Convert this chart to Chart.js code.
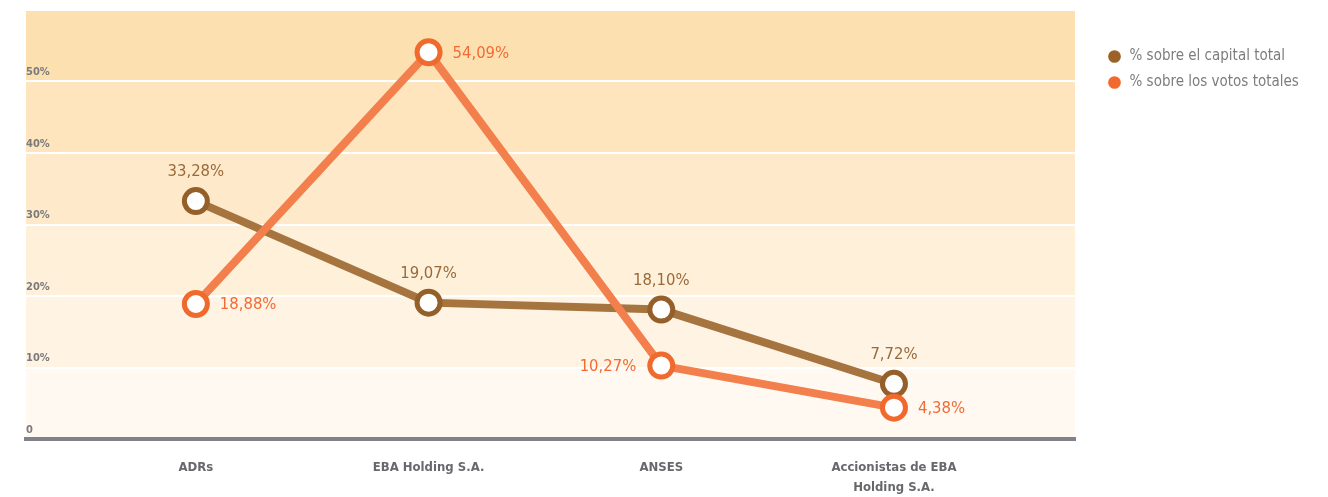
<!DOCTYPE html>
<html>
<head>
<meta charset="utf-8">
<script src="https://cdn.jsdelivr.net/npm/chart.js@4.4.0/dist/chart.umd.min.js"></script>
<style>
html,body{margin:0;padding:0;background:#ffffff;}
#wrap{width:1328px;height:497px;position:relative;}
</style>
</head>
<body>
<div id="wrap"><canvas id="c"></canvas></div>
<script>
// ---- data ----
const categories = ['ADRs', 'EBA Holding S.A.', 'ANSES', ['Accionistas de EBA', 'Holding S.A.']];
const capitalTotal = [33.28, 19.07, 18.10, 7.72];
const votosTotales = [18.88, 54.09, 10.27, 4.38];
const seriesNames = ['% sobre el capital total', '% sobre los votos totales'];
const yTickValues = [0, 10, 20, 30, 40, 50, 60];
const yTickLabels = ['0', '10%', '20%', '30%', '40%', '50%', ''];

// ---- style ----
const FONT = '"DejaVu Sans Condensed", "Liberation Sans Narrow", "Arial Narrow", sans-serif';
const BROWN_LINE = '#a5743f', BROWN_PT = '#955f2a', BROWN_TXT = '#9a6a3b', BROWN_LEG = '#9a6128';
const ORANGE_LINE = '#f27f4c', ORANGE_PT = '#f06a2e', ORANGE_TXT = '#f26b35', ORANGE_LEG = '#f06a30';
const fmt = v => v.toFixed(2).replace('.', ',') + '%';

const bandsPlugin = {
  id: 'bands',
  beforeDraw(chart, args, opts) {
    const {ctx, chartArea, scales} = chart;
    const y = scales.y;
    ctx.save();
    for (let i = 0; i < yTickValues.length - 1; i++) {
      const y1 = y.getPixelForValue(yTickValues[i]);
      const y2 = y.getPixelForValue(yTickValues[i + 1]);
      ctx.fillStyle = opts.colors[i];
      ctx.fillRect(chartArea.left, y2, chartArea.right - chartArea.left, y1 - y2);
    }
    ctx.restore();
  }
};

const labelsPlugin = {
  id: 'pointLabels',
  afterDatasetsDraw(chart, args, opts) {
    const {ctx} = chart;
    ctx.save();
    ctx.font = '16.5px ' + FONT;
    chart.data.datasets.forEach((ds, di) => {
      const meta = chart.getDatasetMeta(di);
      const place = opts.placement[di];
      meta.data.forEach((pt, i) => {
        const txt = fmt(ds.data[i].y);
        ctx.fillStyle = opts.colors[di];
        ctx.textBaseline = 'middle';
        const p = place[i];
        if (p === 'top') {
          ctx.textAlign = 'center';
          ctx.fillText(txt, pt.x, pt.y - 29);
        } else if (p === 'right') {
          ctx.textAlign = 'left';
          ctx.fillText(txt, pt.x + 24, pt.y + 1);
        } else {
          ctx.textAlign = 'right';
          ctx.fillText(txt, pt.x - 25, pt.y + 1);
        }
      });
    });
    ctx.restore();
  }
};

const legendFitPlugin = {
  id: 'legendFit',
  beforeInit(chart, args, opts) {
    const lg = chart.legend;
    if (!lg) return;
    const origFit = lg.fit;
    lg.fit = function () { origFit.call(this); this.width = opts.width; };
    const origDraw = lg.draw;
    lg.draw = function () {
      const c = this.ctx;
      c.save();
      c.translate(opts.dx, opts.dy);
      origDraw.apply(this, arguments);
      c.restore();
    };
  }
};

const mk = (vals) => vals.map((v, i) => ({x: i, y: v}));

new Chart(document.getElementById('c'), {
  type: 'line',
  data: {
    datasets: [
      {
        label: seriesNames[0],
        data: mk(capitalTotal),
        borderColor: BROWN_LINE,
        backgroundColor: BROWN_LEG,
        borderWidth: 8,
        pointRadius: 11.5,
        pointHoverRadius: 11.5,
        pointBorderWidth: 5,
        pointBackgroundColor: '#ffffff',
        pointBorderColor: BROWN_PT,
        tension: 0,
        clip: false,
        order: 2
      },
      {
        label: seriesNames[1],
        data: mk(votosTotales),
        borderColor: ORANGE_LINE,
        backgroundColor: ORANGE_LEG,
        borderWidth: 8,
        pointRadius: 11.5,
        pointHoverRadius: 11.5,
        pointBorderWidth: 5,
        pointBackgroundColor: '#ffffff',
        pointBorderColor: ORANGE_PT,
        tension: 0,
        clip: false,
        order: 1
      }
    ]
  },
  options: {
    responsive: true,
    maintainAspectRatio: false,
    animation: false,
    layout: {autoPadding: false, padding: {left: 26, top: 10, right: 0, bottom: 0}},
    scales: {
      x: {
        type: 'linear',
        min: -0.73,
        max: 3.778,
        afterBuildTicks: (scale) => { scale.ticks = categories.map((c, i) => ({value: i})); },
        afterFit: (scale) => { scale.height = 58; scale.paddingLeft = 0; scale.paddingRight = 0; },
        grid: {display: false, drawTicks: false},
        border: {display: true, color: '#818287', width: 4},
        ticks: {
          autoSkip: false,
          maxRotation: 0,
          padding: 19,
          color: '#67686c',
          font: {family: FONT, size: 13, weight: 'bold', lineHeight: 1.54},
          callback: (v) => categories[v]
        }
      },
      y: {
        min: 0,
        max: 60,
        afterBuildTicks: (scale) => { scale.ticks = yTickValues.map(v => ({value: v})); },
        afterFit: (scale) => { scale.width = 0; scale.paddingTop = 0; scale.paddingBottom = 0; },
        grid: {color: '#ffffff', lineWidth: 2, drawTicks: false},
        border: {display: false},
        ticks: {
          mirror: true,
          padding: 0,
          labelOffset: -9,
          color: '#7b7b7d',
          font: {family: FONT, size: 11, weight: 'bold'},
          callback: (v) => yTickLabels[yTickValues.indexOf(v)]
        }
      }
    },
    plugins: {
      legend: {
        position: 'right',
        align: 'start',
        labels: {
          usePointStyle: true,
          boxWidth: 15,
          boxHeight: 9,
          padding: 11,
          color: '#7d7d7f',
          font: {family: FONT, size: 15},
          generateLabels: () => seriesNames.map((n, i) => ({
            text: n,
            fillStyle: [BROWN_LEG, ORANGE_LEG][i],
            strokeStyle: [BROWN_LEG, ORANGE_LEG][i],
            lineWidth: 0,
            pointStyle: 'circle',
            hidden: false,
            datasetIndex: i,
            fontColor: '#7d7d7f'
          }))
        }
      },
      tooltip: {enabled: false},
      bands: {colors: ['#fff9f1', '#fff4e4', '#fff0d9', '#feeacb', '#fee5bd', '#fde0b0']},
      pointLabels: {
        colors: [BROWN_TXT, ORANGE_TXT],
        placement: [['top', 'top', 'top', 'top'], ['right', 'right', 'left', 'right']]
      },
      legendFit: {width: 253, dx: 21, dy: 28}
    }
  },
  plugins: [bandsPlugin, labelsPlugin, legendFitPlugin]
});
</script>
</body>
</html>
